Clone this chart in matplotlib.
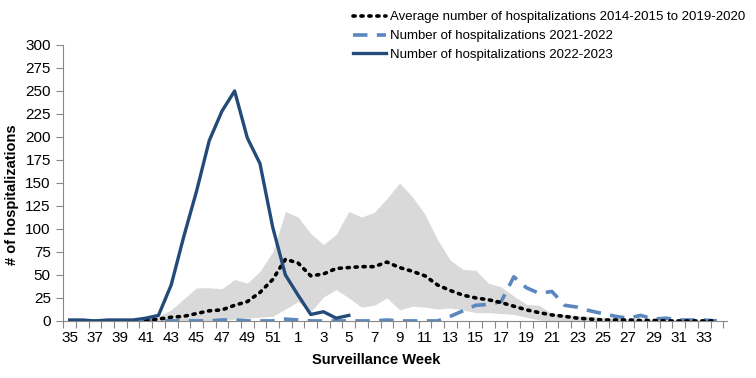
import numpy as np
import matplotlib.pyplot as plt

nan = np.nan

# surveillance weeks 35..52 then 1..34
weeks = list(range(35, 53)) + list(range(1, 35))

avg_2014_2020 = [nan, nan, nan, nan, nan, nan, 0.5, 2, 4, 5, 8, 11, 12, 17, 21, 31, 45, 67,
                 63, 49, 51, 57, 58, 59, 59, 64, 58, 54, 49, 39, 33, 28, 25, 23, 20, 16, 12,
                 9, 6.5, 5, 3, 2, 1, 1, 1, 0.5, 0.5, 0, 0, 0, 0, 0]

hosp_2021_2022 = [0, 0, 0, 0, 0, 0, 0, 0, 0, 0, 0, 0, 1, 1, 0, 0, 0, 2,
                  1, 0, 0, 0, 0, 0, 0, 1, 0, 0, 0, 0, 5, 11, 17, 18, 21, 48, 36, 30,
                  32, 17, 15, 11, 8, 5, 3, 6, 2, 3, 1, 1, 1, 0]

hosp_2022_2023 = [1, 1, 0, 1, 1, 1, 3, 6, 39, 92, 141, 196, 228, 250, 199, 171, 102, 50,
                  28, 7, 10, 3, 6] + [nan] * 29

range_high = [1, 1, 1, 2, 2, 2, 3, 5, 12, 24, 36, 36, 35, 45, 41, 54, 75, 119,
              113, 95, 83, 94, 119, 113, 118, 133, 150, 135, 116, 88, 66, 56, 55, 41,
              37, 27, 18, 17, 8, 7, 6, 5, 4, 3, 2, 2, 2, 1, 1, 1, 1, 0]

range_low = [0] * 13 + [2, 3, 4, 5, 13,
             21, 10, 26, 34, 25, 15, 17, 25, 12, 16, 15, 13, 14, 12, 9, 9, 8, 7, 4, 1] + [0] * 14

plt.rcParams['font.family'] = ['Liberation Sans', 'DejaVu Sans']

fig = plt.figure(figsize=(7.56, 3.78), dpi=100)
ax = fig.add_axes([0.0837, 0.151, 0.878, 0.730])

x = np.arange(len(weeks))

# min-max band of past seasons
ax.fill_between(x, range_low, range_high, color="#d9d9d9", linewidth=0, zorder=1)

ax.plot(x, avg_2014_2020, color="black", linewidth=2.6, linestyle=(0, (0.6, 1.6)),
        dash_capstyle="round", label="Average number of hospitalizations 2014-2015 to 2019-2020", zorder=3)
ax.plot(x, hosp_2021_2022, color="#5b87bf", linewidth=2.6, linestyle=(0, (4, 2.6)),
        label="Number of hospitalizations 2021-2022", zorder=2)
ax.plot(x, hosp_2022_2023, color="#234a78", linewidth=2.4,
        label="Number of hospitalizations 2022-2023", zorder=4)

# axes
ax.set_xlim(-0.5, len(weeks) - 0.5 + 0.3)
ax.set_ylim(0, 300)
ax.set_yticks(np.arange(0, 301, 25))
ax.tick_params(axis="y", labelsize=11, length=5, color="#888888", direction="out", pad=4)

# tick marks between categories, labels on every other week
ax.set_xticks(np.arange(-0.5, len(weeks), 1))
ax.set_xticklabels([])
ax.tick_params(axis="x", which="major", length=5, color="#888888", direction="out")
ax.set_xticks(x[::2], minor=True)
ax.set_xticklabels([str(w) for w in weeks[::2]], minor=True)
ax.tick_params(axis="x", which="minor", length=0, labelsize=11, pad=7)

for s in ["top", "right"]:
    ax.spines[s].set_visible(False)
ax.spines["left"].set_color("#888888")
ax.spines["bottom"].set_color("#888888")

ax.set_xlabel("Surveillance Week", fontsize=10.5, fontweight="bold")
ax.xaxis.set_label_coords(0.471, -0.118)
ax.set_ylabel("# of hospitalizations", fontsize=10.5, fontweight="bold")
ax.yaxis.set_label_coords(-0.067, 0.457)

ax.legend(loc="upper left", bbox_to_anchor=(0.455, 0.995), bbox_transform=fig.transFigure,
          frameon=False, fontsize=9.5, handlelength=2.5, handletextpad=0.3,
          labelspacing=0.5, borderaxespad=0.3)

fig.savefig("out.png", dpi=100)
